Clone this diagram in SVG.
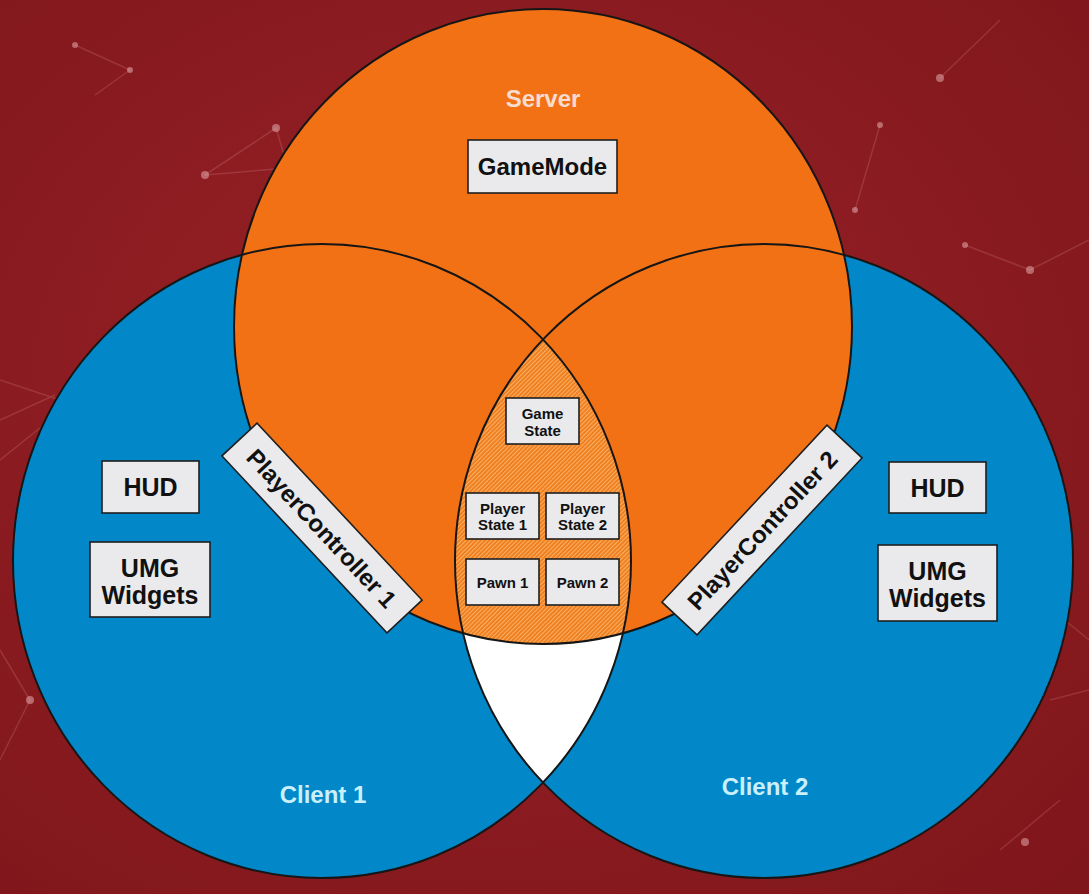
<svg xmlns="http://www.w3.org/2000/svg" width="1089" height="894" viewBox="0 0 1089 894">
  <defs>
    <radialGradient id="bg" cx="0.45" cy="0.45" r="0.75">
      <stop offset="0" stop-color="#9a2328"/>
      <stop offset="1" stop-color="#7f161b"/>
    </radialGradient>
    <pattern id="hatch" width="3" height="3" patternUnits="userSpaceOnUse" patternTransform="rotate(-45)">
      <rect width="3" height="3" fill="#f07a1a"/>
      <rect width="3" height="1.2" fill="#f7b062"/>
    </pattern>
    <clipPath id="clipC1"><ellipse cx="322" cy="561" rx="309" ry="317"/></clipPath>
    <clipPath id="clipS"><ellipse cx="543" cy="326.5" rx="309" ry="317.5"/></clipPath>
    <style>
      .box { fill: #eaeaec; stroke: #1e1e1e; stroke-width: 1.6; }
      .lbl { font-family: "Liberation Sans", Arial, sans-serif; font-weight: bold; fill: #111; text-anchor: middle; }
      .big { font-size: 25px; }
      .sm { font-size: 15px; }
      .title { font-family: "Liberation Sans", Arial, sans-serif; font-weight: bold; font-size: 24px; text-anchor: middle; }
      .edge { fill: none; stroke: #161616; stroke-width: 2; }
      .net { stroke: #e8a0a4; stroke-opacity: 0.2; stroke-width: 1.5; fill: none; }
      .dot { fill: #f6c8ca; fill-opacity: 0.45; }
    </style>
  </defs>

  <!-- background -->
  <rect width="1089" height="894" fill="url(#bg)"/>
  <g id="background-network">
    <path class="net" d="M276 128 L205 175 L288 168 Z"/>
    <path class="net" d="M0 380 L60 400 M0 420 L55 395 M0 460 L50 420"/>
    <path class="net" d="M75 45 L130 70 L95 95"/>
    <path class="net" d="M940 78 L1000 20 M965 245 L1030 270 L1089 240 M880 125 L855 210"/>
    <path class="net" d="M1040 600 L1089 640 M1050 700 L1089 690 M1000 850 L1060 800"/>
    <path class="net" d="M0 650 L30 700 L0 760"/>
    <circle class="dot" cx="276" cy="128" r="4"/>
    <circle class="dot" cx="205" cy="175" r="4"/>
    <circle class="dot" cx="75" cy="45" r="3"/>
    <circle class="dot" cx="130" cy="70" r="3"/>
    <circle class="dot" cx="940" cy="78" r="4"/>
    <circle class="dot" cx="965" cy="245" r="3"/>
    <circle class="dot" cx="1030" cy="270" r="4"/>
    <circle class="dot" cx="880" cy="125" r="3"/>
    <circle class="dot" cx="855" cy="210" r="3"/>
    <circle class="dot" cx="30" cy="700" r="4"/>
    <circle class="dot" cx="1025" cy="842" r="4"/>
  </g>

  <!-- circles -->
  <g id="client1-circle"><ellipse cx="322" cy="561" rx="309" ry="317" fill="#0288c8"/></g>
  <g id="client2-circle"><ellipse cx="764" cy="561" rx="309" ry="317" fill="#0288c8"/></g>
  <g id="clients-overlap" clip-path="url(#clipC1)"><ellipse cx="764" cy="561" rx="309" ry="317" fill="#ffffff"/></g>
  <g id="server-circle"><ellipse cx="543" cy="326.5" rx="309" ry="317.5" fill="#f37115"/></g>
  <g id="shared-region" clip-path="url(#clipS)">
    <g clip-path="url(#clipC1)"><ellipse cx="764" cy="561" rx="309" ry="317" fill="url(#hatch)"/></g>
  </g>
  <g id="outlines">
    <ellipse class="edge" cx="322" cy="561" rx="309" ry="317"/>
    <ellipse class="edge" cx="764" cy="561" rx="309" ry="317"/>
    <ellipse class="edge" cx="543" cy="326.5" rx="309" ry="317.5"/>
  </g>

  <g id="connectors"/>

  <!-- region titles -->
  <g id="server-label"><text class="title" x="543" y="107" fill="#f7dccf">Server</text></g>
  <g id="client1-label"><text class="title" x="323" y="803" fill="#c9f0fb">Client 1</text></g>
  <g id="client2-label"><text class="title" x="765" y="795" fill="#c9f0fb">Client 2</text></g>

  <!-- server -->
  <g id="gamemode">
    <rect class="box" x="468" y="140" width="149" height="53"/>
    <text class="lbl" x="542.5" y="175" font-size="24">GameMode</text>
  </g>

  <!-- client 1 -->
  <g id="hud1">
    <rect class="box" x="102" y="461" width="97" height="52"/>
    <text class="lbl big" x="150.5" y="496">HUD</text>
  </g>
  <g id="umg1">
    <rect class="box" x="90" y="542" width="120" height="75"/>
    <text class="lbl big" x="150" y="577">UMG</text>
    <text class="lbl big" x="150" y="604">Widgets</text>
  </g>

  <!-- client 2 -->
  <g id="hud2">
    <rect class="box" x="889" y="462" width="97" height="51"/>
    <text class="lbl big" x="937.5" y="497">HUD</text>
  </g>
  <g id="umg2">
    <rect class="box" x="878" y="545" width="119" height="76"/>
    <text class="lbl big" x="937.5" y="580">UMG</text>
    <text class="lbl big" x="937.5" y="607">Widgets</text>
  </g>

  <!-- shared -->
  <g id="gamestate">
    <rect class="box" x="506" y="398" width="73" height="46"/>
    <text class="lbl sm" x="542.5" y="419">Game</text>
    <text class="lbl sm" x="542.5" y="436">State</text>
  </g>
  <g id="playerstate1">
    <rect class="box" x="466" y="493" width="73" height="46"/>
    <text class="lbl sm" x="502.5" y="514">Player</text>
    <text class="lbl sm" x="502.5" y="530">State 1</text>
  </g>
  <g id="playerstate2">
    <rect class="box" x="546" y="493" width="73" height="46"/>
    <text class="lbl sm" x="582.5" y="514">Player</text>
    <text class="lbl sm" x="582.5" y="530">State 2</text>
  </g>
  <g id="pawn1">
    <rect class="box" x="466" y="559" width="73" height="46"/>
    <text class="lbl sm" x="502.5" y="588">Pawn 1</text>
  </g>
  <g id="pawn2">
    <rect class="box" x="546" y="559" width="73" height="46"/>
    <text class="lbl sm" x="582.5" y="588">Pawn 2</text>
  </g>

  <!-- player controllers -->
  <g id="playercontroller1" transform="translate(322 528) rotate(47)">
    <rect class="box" x="-121" y="-24" width="242" height="48"/>
    <text class="lbl" x="0" y="9" font-size="24">PlayerController 1</text>
  </g>
  <g id="playercontroller2" transform="translate(762 530) rotate(-47)">
    <rect class="box" x="-121" y="-24" width="242" height="48"/>
    <text class="lbl" x="0" y="9" font-size="24">PlayerController 2</text>
  </g>
</svg>
